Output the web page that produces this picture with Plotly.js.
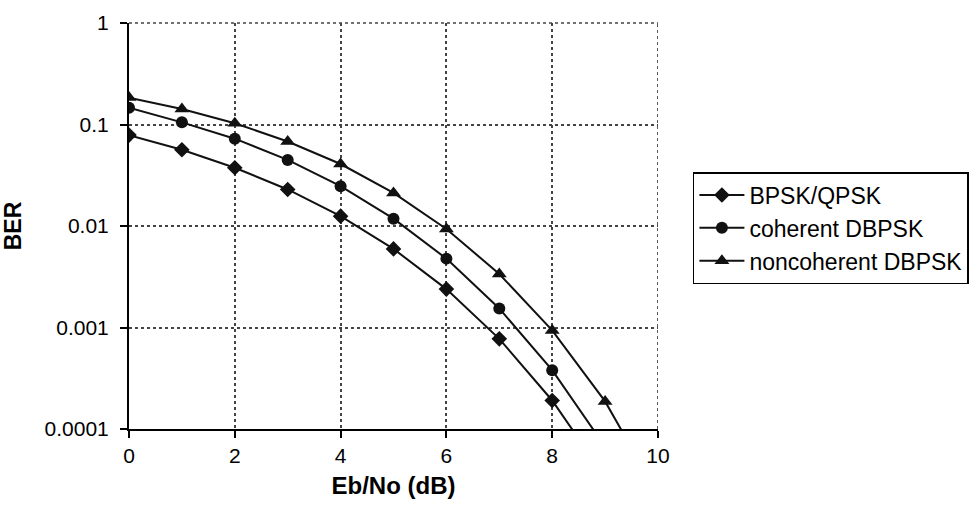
<!DOCTYPE html>
<html><head><meta charset="utf-8">
<script src="https://cdn.plot.ly/plotly-3.0.1.min.js"></script>
<style>html,body{margin:0;padding:0;background:#fff;}#chart{width:977px;height:508px;}</style>
</head><body><div id="chart"></div>
<script>
const ebno = [0,1,2,3,4,5,6,7,8,9,10];
const bpsk = [0.0786,0.0563,0.0375,0.0229,0.0125,0.00595,0.00239,0.000773,0.000191,0.0000336];
const cohDbpsk = [0.146,0.105,0.0725,0.0448,0.0247,0.0118,0.00477,0.00154,0.00038,0.000067];
const noncohDbpsk = [0.184,0.142,0.103,0.068,0.0408,0.0212,0.00934,0.00337,0.000936,0.000187,0.0000227];
const names = ['BPSK/QPSK','coherent DBPSK','noncoherent DBPSK'];
const yTicks = [1,0.1,0.01,0.001,0.0001];
const yTickText = ['1','0.1','0.01','0.001','0.0001'];

const lineC = '#111';
function tr(y, name, sym, size){
  return {x: ebno.slice(0, y.length), y: y, name: name, mode:'lines+markers',
    line:{color:lineC, width:2}, marker:{symbol:sym, size:size, color:lineC}, cliponaxis:true};
}
const data = [tr(bpsk,names[0],'diamond',12), tr(cohDbpsk,names[1],'circle',12), tr(noncohDbpsk,names[2],'triangle-up',13)];
const font = {family:'Liberation Sans, Arial, sans-serif', size:21, color:'#000'};
const layout = {
  width:977, height:508, margin:{l:129,r:319,t:23,b:79,autoexpand:false},
  paper_bgcolor:'#fff', plot_bgcolor:'#fff', font:font, showlegend:true,
  xaxis:{range:[0,10], dtick:2, tick0:0, showline:true, linecolor:'#000', linewidth:2,
    ticks:'outside', ticklen:7, tickwidth:2, tickcolor:'#000', showgrid:true, gridcolor:'#444', griddash:'dot', gridwidth:1.5,
    zeroline:false, tickfont:{size:21}, title:{text:'<b>Eb/No (dB)</b>', font:{size:24}, standoff:11}},
  yaxis:{type:'log', range:[-4,0], tickvals:yTicks, ticktext:yTickText, showline:true, linecolor:'#000', linewidth:2,
    ticks:'outside', ticklen:7, tickwidth:2, tickcolor:'#000', showgrid:true, gridcolor:'#444', griddash:'dot', gridwidth:1.5,
    zeroline:false, tickfont:{size:21}, ticklabelstandoff:7, title:{text:'<b>BER</b>', font:{size:23}, standoff:19}},
  legend:{x:1.066, y:0.633, xanchor:'left', yanchor:'top', bordercolor:'#000', borderwidth:1.5,
    bgcolor:'#fff', font:{size:23}, tracegroupgap:0, itemwidth:45},
  shapes:[
    {type:'line', xref:'x', yref:'paper', x0:10, x1:10, y0:0, y1:1, line:{color:'#222', width:1.5, dash:'dot'}},
    {type:'line', xref:'x', yref:'paper', x0:0, x1:10, y0:1, y1:1, line:{color:'#444', width:1.5, dash:'dot'}}
  ]
};
Plotly.newPlot('chart', data, layout, {displayModeBar:false});
</script></body></html>
